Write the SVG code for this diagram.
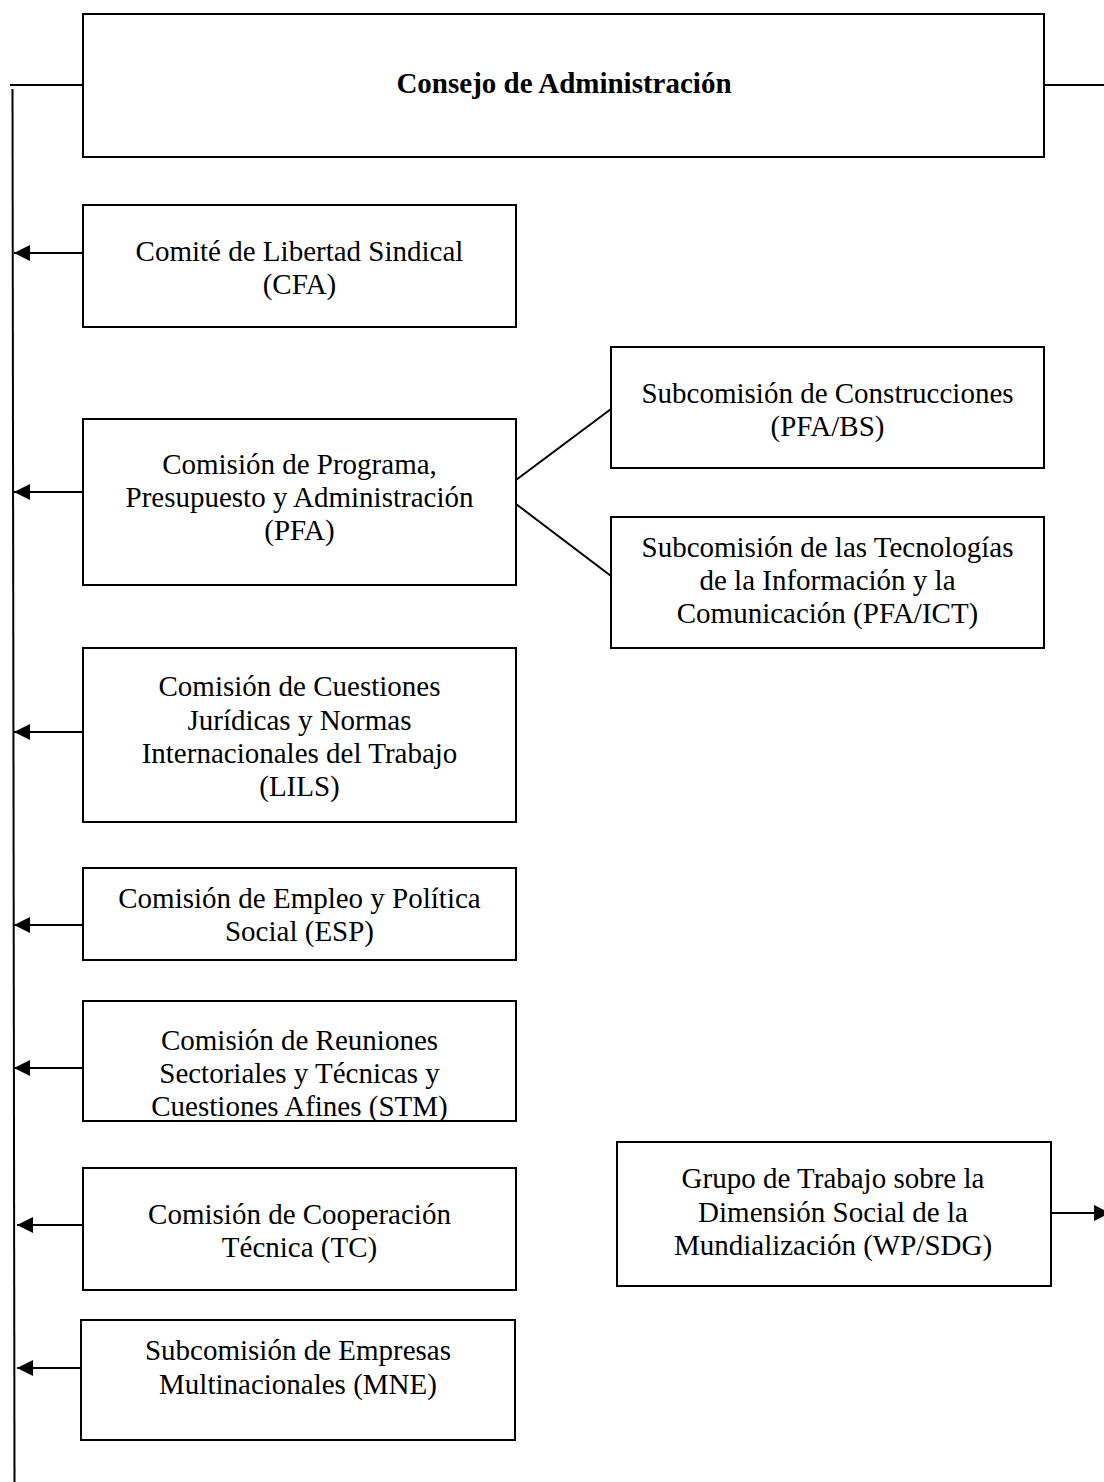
<svg xmlns="http://www.w3.org/2000/svg" width="1104" height="1482" viewBox="0 0 1104 1482">
<style>
.box{fill:#fff;stroke:#000;stroke-width:2}
.ln{fill:none;stroke:#000;stroke-width:2}
text{font-family:"Liberation Serif","Times New Roman",serif;font-size:29px;fill:#000;text-anchor:middle}
.b{font-weight:bold}
</style>
<defs>
<marker id="ah" markerUnits="userSpaceOnUse" markerWidth="16" markerHeight="16" viewBox="0 0 14 14" refX="14" refY="7" orient="auto">
<path d="M0,0 L14,7 L0,14 Z" fill="#000"/>
</marker>
</defs>
<rect width="1104" height="1482" fill="#fff"/>
<g id="connectors">
<line class="ln" x1="10" y1="85" x2="83" y2="85"/>
<line class="ln" x1="1044" y1="85" x2="1104" y2="85"/>
<line class="ln" x1="12.5" y1="89" x2="14.5" y2="1482"/>
<line class="ln" x1="83" y1="253" x2="14" y2="253" marker-end="url(#ah)"/>
<line class="ln" x1="83" y1="492" x2="14" y2="492" marker-end="url(#ah)"/>
<line class="ln" x1="83" y1="732" x2="14" y2="732" marker-end="url(#ah)"/>
<line class="ln" x1="83" y1="925" x2="14" y2="925" marker-end="url(#ah)"/>
<line class="ln" x1="83" y1="1068" x2="14" y2="1068" marker-end="url(#ah)"/>
<line class="ln" x1="87" y1="1225" x2="17" y2="1225" marker-end="url(#ah)"/>
<line class="ln" x1="86" y1="1368" x2="17" y2="1368" marker-end="url(#ah)"/>
<line class="ln" x1="516" y1="480" x2="611" y2="409"/>
<line class="ln" x1="516" y1="504" x2="611" y2="576"/>
<line class="ln" x1="1051" y1="1213" x2="1110" y2="1213" marker-end="url(#ah)"/>
</g>
<g id="n-consejo">
<rect class="box" x="83" y="14" width="961" height="143"/>
<text class="b" x="564" y="93">Consejo de Administración</text>
</g>
<g id="n-cfa">
<rect class="box" x="83" y="205" width="433" height="122"/>
<text x="299.5" y="260.5">Comité de Libertad Sindical</text>
<text x="299.5" y="293.5">(CFA)</text>
</g>
<g id="n-pfa">
<rect class="box" x="83" y="419" width="433" height="166"/>
<text x="299.5" y="474">Comisión de Programa,</text>
<text x="299.5" y="507">Presupuesto y Administración</text>
<text x="299.5" y="540">(PFA)</text>
</g>
<g id="n-pfabs">
<rect class="box" x="611" y="347" width="433" height="121"/>
<text x="827.5" y="403">Subcomisión de Construcciones</text>
<text x="827.5" y="436">(PFA/BS)</text>
</g>
<g id="n-pfaict">
<rect class="box" x="611" y="517" width="433" height="131"/>
<text x="827.5" y="557">Subcomisión de las Tecnologías</text>
<text x="827.5" y="590">de la Información y la</text>
<text x="827.5" y="623">Comunicación (PFA/ICT)</text>
</g>
<g id="n-lils">
<rect class="box" x="83" y="648" width="433" height="174"/>
<text x="299.5" y="696">Comisión de Cuestiones</text>
<text x="299.5" y="729.5">Jurídicas y Normas</text>
<text x="299.5" y="762.5">Internacionales del Trabajo</text>
<text x="299.5" y="795.5">(LILS)</text>
</g>
<g id="n-esp">
<rect class="box" x="83" y="868" width="433" height="92"/>
<text x="299.5" y="908">Comisión de Empleo y Política</text>
<text x="299.5" y="941">Social (ESP)</text>
</g>
<g id="n-stm">
<rect class="box" x="83" y="1001" width="433" height="120"/>
<text x="299.5" y="1050">Comisión de Reuniones</text>
<text x="299.5" y="1083">Sectoriales y Técnicas y</text>
<text x="299.5" y="1116">Cuestiones Afines (STM)</text>
</g>
<g id="n-tc">
<rect class="box" x="83" y="1168" width="433" height="122"/>
<text x="299.5" y="1223.5">Comisión de Cooperación</text>
<text x="299.5" y="1257">Técnica (TC)</text>
</g>
<g id="n-mne">
<rect class="box" x="81" y="1320" width="434" height="120"/>
<text x="298" y="1360">Subcomisión de Empresas</text>
<text x="298" y="1393.5">Multinacionales (MNE)</text>
</g>
<g id="n-wpsdg">
<rect class="box" x="617" y="1142" width="434" height="144"/>
<text x="833" y="1188">Grupo de Trabajo sobre la</text>
<text x="833" y="1221.5">Dimensión Social de la</text>
<text x="833" y="1254.5">Mundialización (WP/SDG)</text>
</g>
</svg>
